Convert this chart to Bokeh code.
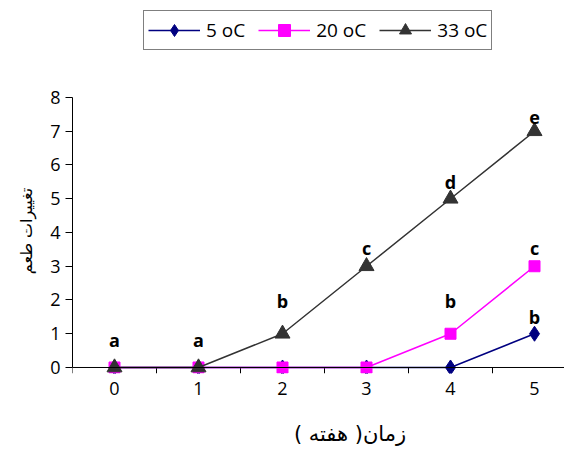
from bokeh.plotting import figure
from bokeh.models import FixedTicker, Legend, LegendItem, ColumnDataSource, Range1d, Span
from bokeh.core.properties import value
from bokeh.embed import file_html
from bokeh.resources import INLINE

weeks = [0, 1, 2, 3, 4, 5]
t5 = [0, 0, 0, 0, 0, 1]
t20 = [0, 0, 0, 0, 1, 3]
t33 = [0, 0, 1, 3, 5, 7]
letters5 = ["", "", "", "", "", "b"]
letters20 = ["", "", "", "", "b", "c"]
letters33 = ["a", "a", "b", "c", "d", "e"]
series_names = ["5 oC", "20 oC", "33 oC"]
y_ticks = [0, 1, 2, 3, 4, 5, 6, 7, 8]
x_label = "زمان( هفته )"
y_label = "تغییرات طعم"

# label pixel offsets above points (styling)
off5 = [0, 0, 0, 0, 0, 17]
off20 = [0, 0, 0, 0, 33, 18]
off33 = [27, 27, 33, 18, 17, 14]

EM = "\u2003"   # em spaces used only to shift the axis titles off-centre
EN = "\u2002"

Y0 = -0.178   # frame bottom, 6px below the zero line
Y1 = 10.874   # frame top reaches the top of the picture (room for the legend)
p = figure(width=564, height=452, output_backend="svg", toolbar_location=None,
           x_range=Range1d(-0.5, 5.357), y_range=Range1d(Y0, Y1),
           min_border_left=72, min_border_right=0, min_border_top=0, min_border_bottom=79)
p.outline_line_color = None
p.xgrid.grid_line_color = None
p.ygrid.grid_line_color = None
p.background_fill_color = "white"
p.border_fill_color = "white"

font = "Open Sans"

# x axis (labels only; zero line and category-boundary ticks drawn in the frame)
xa = p.xaxis[0]
xa.ticker = FixedTicker(ticks=weeks, minor_ticks=[])
xa.axis_line_color = None
xa.major_tick_line_color = None
xa.minor_tick_line_color = None
xa.major_tick_out = 0
xa.major_tick_in = 0
xa.major_label_standoff = 8
xa.major_label_text_font = font
xa.major_label_text_font_size = "18px"
xa.major_label_text_color = "black"
xa.axis_label = EM * 3 + x_label
xa.axis_label_text_font = "DejaVu Sans"
xa.axis_label_text_font_size = "21px"
xa.axis_label_text_font_style = "normal"
xa.axis_label_text_color = "black"
xa.axis_label_standoff = 24
p.add_layout(Span(location=0, dimension="width", line_color="black", line_width=1))
bounds = [w - 0.5 for w in weeks] + [weeks[-1] + 0.5]
p.segment(x0=bounds, y0=[0] * len(bounds), x1=bounds, y1=[Y0] * len(bounds),
          line_color="black", line_width=1)

# y axis
ya = p.yaxis[0]
ya.ticker = FixedTicker(ticks=y_ticks)
ya.bounds = (0, 8)
ya.major_tick_out = 7
ya.major_tick_in = 0
ya.minor_tick_line_color = None
ya.axis_line_color = "black"
ya.major_tick_line_color = "black"
ya.major_label_standoff = 5
ya.major_label_text_font = font
ya.major_label_text_font_size = "18px"
ya.major_label_text_color = "black"
ya.axis_label = y_label + EM * 5 + EN
ya.axis_label_text_font = "DejaVu Sans"
ya.axis_label_text_font_size = "16px"
ya.axis_label_text_font_style = "normal"
ya.axis_label_text_color = "black"
ya.axis_label_standoff = 11

colors = ["#000080", "#FF00FF", "#333333"]
values = [t5, t20, t33]
letters = [letters5, letters20, letters33]
offs = [off5, off20, off33]
markers = ["diamond", "square", "triangle"]
msizes = [15, 11, 15]

items = []
for name, col, vals, lets, off, mk, ms in zip(series_names, colors, values, letters, offs, markers, msizes):
    src = ColumnDataSource(dict(x=weeks, y=vals, t=lets, o=[-v for v in off]))
    ln = p.line("x", "y", source=src, line_color=col, line_width=1.5)
    sc = p.scatter("x", "y", source=src, marker=mk, size=ms, fill_color=col, line_color=col)
    p.text("x", "y", text="t", y_offset="o", source=src, text_font=value(font),
           text_font_style="bold", text_font_size="18px", text_align="center",
           text_baseline="middle", text_color="black")
    items.append(LegendItem(label=name, renderers=[ln, sc]))

legend = Legend(items=items, location=(71, 323), orientation="horizontal",
                border_line_color="black", border_line_width=1,
                label_text_font=font, label_text_font_size="19px", label_text_color="black",
                glyph_width=52, glyph_height=30, label_height=20,
                padding=4, spacing=13, label_standoff=6, margin=0,
                background_fill_alpha=1)
p.add_layout(legend, "center")

open("out.html", "w").write(file_html(p, INLINE))
